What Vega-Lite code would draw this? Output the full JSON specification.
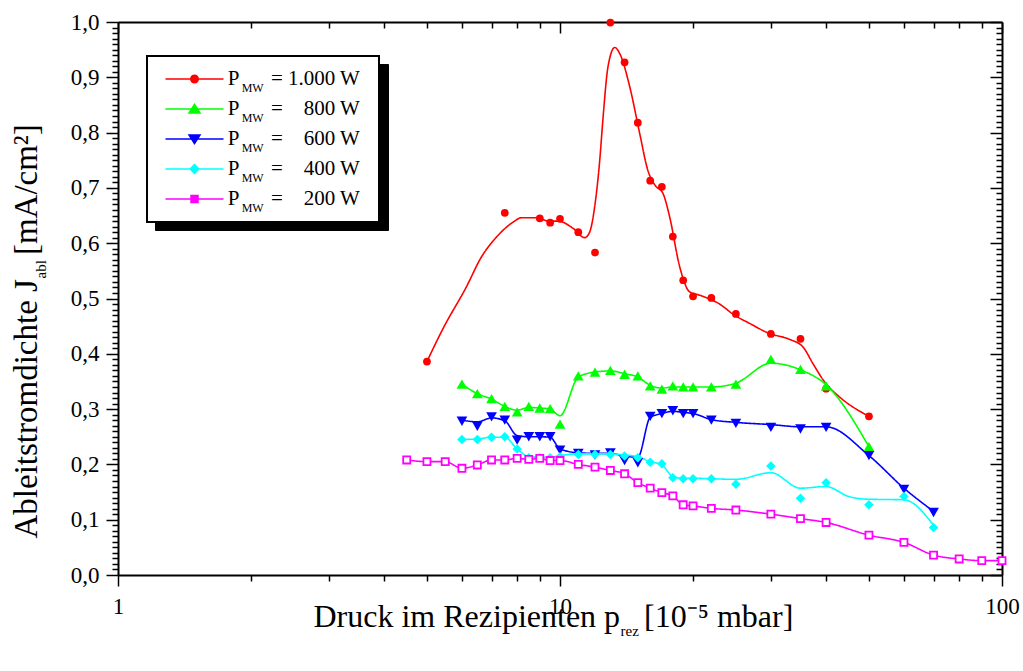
{
  "$schema": "https://vega.github.io/schema/vega-lite/v6.json",
  "width": 884,
  "height": 553,
  "autosize": {"type": "none"},
  "padding": {"left": 118, "top": 22, "right": 21, "bottom": 96},
  "background": "white",
  "datasets": {
    "curve": [
      {"p": 5, "j": 0.386, "s": "1000"}, {"p": 5.44, "j": 0.446, "s": "1000"}, {"p": 6.14, "j": 0.521, "s": "1000"}, {"p": 6.64, "j": 0.575, "s": "1000"},
      {"p": 7.18, "j": 0.611, "s": "1000"}, {"p": 7.83, "j": 0.638, "s": "1000"}, {"p": 8.18, "j": 0.646, "s": "1000"}, {"p": 8.84, "j": 0.646, "s": "1000"},
      {"p": 9.44, "j": 0.64, "s": "1000"}, {"p": 9.9, "j": 0.64, "s": "1000"}, {"p": 10.7, "j": 0.627, "s": "1000"}, {"p": 11.37, "j": 0.61, "s": "1000"},
      {"p": 11.67, "j": 0.62, "s": "1000"}, {"p": 11.98, "j": 0.666, "s": "1000"}, {"p": 12.3, "j": 0.75, "s": "1000"}, {"p": 12.5, "j": 0.822, "s": "1000"},
      {"p": 12.84, "j": 0.919, "s": "1000"}, {"p": 13.3, "j": 0.954, "s": "1000"}, {"p": 13.65, "j": 0.943, "s": "1000"}, {"p": 14.38, "j": 0.883, "s": "1000"},
      {"p": 15.15, "j": 0.798, "s": "1000"}, {"p": 15.8, "j": 0.732, "s": "1000"}, {"p": 16.4, "j": 0.705, "s": "1000"}, {"p": 17.1, "j": 0.69, "s": "1000"},
      {"p": 17.7, "j": 0.648, "s": "1000"}, {"p": 18.66, "j": 0.557, "s": "1000"}, {"p": 19.65, "j": 0.512, "s": "1000"}, {"p": 20.7, "j": 0.506, "s": "1000"},
      {"p": 22.96, "j": 0.49, "s": "1000"}, {"p": 24.8, "j": 0.47, "s": "1000"}, {"p": 26.85, "j": 0.455, "s": "1000"}, {"p": 29.7, "j": 0.437, "s": "1000"},
      {"p": 33.1, "j": 0.426, "s": "1000"}, {"p": 35.5, "j": 0.412, "s": "1000"}, {"p": 37.3, "j": 0.383, "s": "1000"}, {"p": 39.7, "j": 0.349, "s": "1000"},
      {"p": 42.9, "j": 0.322, "s": "1000"}, {"p": 50, "j": 0.287, "s": "1000"},
      {"p": 6, "j": 0.345, "s": "800"}, {"p": 6.5, "j": 0.328, "s": "800"}, {"p": 7, "j": 0.318, "s": "800"}, {"p": 7.5, "j": 0.305, "s": "800"},
      {"p": 8, "j": 0.298, "s": "800"}, {"p": 8.5, "j": 0.303, "s": "800"}, {"p": 9, "j": 0.302, "s": "800"}, {"p": 9.5, "j": 0.3, "s": "800"},
      {"p": 10, "j": 0.288, "s": "800"}, {"p": 11, "j": 0.358, "s": "800"}, {"p": 12, "j": 0.367, "s": "800"}, {"p": 13, "j": 0.369, "s": "800"},
      {"p": 14, "j": 0.364, "s": "800"}, {"p": 15, "j": 0.358, "s": "800"}, {"p": 16, "j": 0.343, "s": "800"}, {"p": 17, "j": 0.338, "s": "800"},
      {"p": 18, "j": 0.34, "s": "800"}, {"p": 19, "j": 0.34, "s": "800"}, {"p": 20, "j": 0.34, "s": "800"}, {"p": 22, "j": 0.34, "s": "800"},
      {"p": 25, "j": 0.347, "s": "800"}, {"p": 30, "j": 0.383, "s": "800"}, {"p": 35, "j": 0.371, "s": "800"}, {"p": 40, "j": 0.344, "s": "800"},
      {"p": 50, "j": 0.232, "s": "800"},
      {"p": 6, "j": 0.28, "s": "600"}, {"p": 6.5, "j": 0.277, "s": "600"}, {"p": 7, "j": 0.284, "s": "600"}, {"p": 7.5, "j": 0.279, "s": "600"},
      {"p": 8, "j": 0.252, "s": "600"}, {"p": 8.5, "j": 0.25, "s": "600"}, {"p": 9, "j": 0.25, "s": "600"}, {"p": 9.5, "j": 0.249, "s": "600"},
      {"p": 10, "j": 0.228, "s": "600"}, {"p": 11, "j": 0.221, "s": "600"}, {"p": 12, "j": 0.22, "s": "600"}, {"p": 13, "j": 0.22, "s": "600"},
      {"p": 14, "j": 0.215, "s": "600"}, {"p": 15, "j": 0.213, "s": "600"}, {"p": 16, "j": 0.285, "s": "600"}, {"p": 17, "j": 0.292, "s": "600"},
      {"p": 18, "j": 0.296, "s": "600"}, {"p": 19, "j": 0.294, "s": "600"}, {"p": 20, "j": 0.292, "s": "600"}, {"p": 22, "j": 0.281, "s": "600"},
      {"p": 25, "j": 0.276, "s": "600"}, {"p": 30, "j": 0.272, "s": "600"}, {"p": 35, "j": 0.268, "s": "600"}, {"p": 40, "j": 0.268, "s": "600"},
      {"p": 50, "j": 0.216, "s": "600"}, {"p": 60, "j": 0.157, "s": "600"}, {"p": 70, "j": 0.115, "s": "600"},
      {"p": 6, "j": 0.245, "s": "400"}, {"p": 6.5, "j": 0.246, "s": "400"}, {"p": 7, "j": 0.249, "s": "400"}, {"p": 7.5, "j": 0.249, "s": "400"},
      {"p": 8, "j": 0.228, "s": "400"}, {"p": 8.5, "j": 0.214, "s": "400"}, {"p": 9, "j": 0.213, "s": "400"}, {"p": 9.5, "j": 0.213, "s": "400"},
      {"p": 10, "j": 0.216, "s": "400"}, {"p": 11, "j": 0.219, "s": "400"}, {"p": 12, "j": 0.219, "s": "400"}, {"p": 13, "j": 0.219, "s": "400"},
      {"p": 14, "j": 0.217, "s": "400"}, {"p": 15, "j": 0.214, "s": "400"}, {"p": 16, "j": 0.205, "s": "400"}, {"p": 17, "j": 0.199, "s": "400"},
      {"p": 18, "j": 0.178, "s": "400"}, {"p": 19, "j": 0.175, "s": "400"}, {"p": 20, "j": 0.175, "s": "400"}, {"p": 22, "j": 0.174, "s": "400"},
      {"p": 25, "j": 0.173, "s": "400"}, {"p": 30, "j": 0.185, "s": "400"}, {"p": 35, "j": 0.157, "s": "400"}, {"p": 40, "j": 0.16, "s": "400"},
      {"p": 45, "j": 0.142, "s": "400"}, {"p": 50, "j": 0.137, "s": "400"}, {"p": 60, "j": 0.136, "s": "400"}, {"p": 70, "j": 0.09, "s": "400"},
      {"p": 4.5, "j": 0.208, "s": "200"}, {"p": 5, "j": 0.205, "s": "200"}, {"p": 5.5, "j": 0.205, "s": "200"}, {"p": 6, "j": 0.193, "s": "200"},
      {"p": 6.5, "j": 0.199, "s": "200"}, {"p": 7, "j": 0.208, "s": "200"}, {"p": 7.5, "j": 0.208, "s": "200"}, {"p": 8, "j": 0.211, "s": "200"},
      {"p": 8.5, "j": 0.209, "s": "200"}, {"p": 9, "j": 0.211, "s": "200"}, {"p": 9.5, "j": 0.207, "s": "200"}, {"p": 10, "j": 0.207, "s": "200"},
      {"p": 11, "j": 0.2, "s": "200"}, {"p": 12, "j": 0.195, "s": "200"}, {"p": 13, "j": 0.189, "s": "200"}, {"p": 14, "j": 0.183, "s": "200"},
      {"p": 15, "j": 0.167, "s": "200"}, {"p": 16, "j": 0.157, "s": "200"}, {"p": 17, "j": 0.149, "s": "200"}, {"p": 18, "j": 0.143, "s": "200"},
      {"p": 19, "j": 0.127, "s": "200"}, {"p": 20, "j": 0.125, "s": "200"}, {"p": 22, "j": 0.1205, "s": "200"}, {"p": 25, "j": 0.1175, "s": "200"},
      {"p": 30, "j": 0.11, "s": "200"}, {"p": 35, "j": 0.102, "s": "200"}, {"p": 40, "j": 0.095, "s": "200"}, {"p": 50, "j": 0.072, "s": "200"},
      {"p": 60, "j": 0.059, "s": "200"}, {"p": 70, "j": 0.036, "s": "200"}, {"p": 80, "j": 0.029, "s": "200"}, {"p": 90, "j": 0.026, "s": "200"},
      {"p": 100, "j": 0.026, "s": "200"}
    ],
    "pts": [
      {"p": 5, "j": 0.386, "s": "1000"}, {"p": 7.5, "j": 0.655, "s": "1000"}, {"p": 9, "j": 0.645, "s": "1000"}, {"p": 9.5, "j": 0.637, "s": "1000"},
      {"p": 10, "j": 0.644, "s": "1000"}, {"p": 11, "j": 0.62, "s": "1000"}, {"p": 12, "j": 0.583, "s": "1000"}, {"p": 13, "j": 0.999, "s": "1000"},
      {"p": 14, "j": 0.927, "s": "1000"}, {"p": 15, "j": 0.818, "s": "1000"}, {"p": 16, "j": 0.713, "s": "1000"}, {"p": 17, "j": 0.702, "s": "1000"},
      {"p": 18, "j": 0.612, "s": "1000"}, {"p": 19, "j": 0.533, "s": "1000"}, {"p": 20, "j": 0.504, "s": "1000"}, {"p": 22, "j": 0.501, "s": "1000"},
      {"p": 25, "j": 0.472, "s": "1000"}, {"p": 30, "j": 0.436, "s": "1000"}, {"p": 35, "j": 0.427, "s": "1000"}, {"p": 40, "j": 0.337, "s": "1000"},
      {"p": 50, "j": 0.287, "s": "1000"},
      {"p": 6, "j": 0.345, "s": "800"}, {"p": 6.5, "j": 0.328, "s": "800"}, {"p": 7, "j": 0.319, "s": "800"}, {"p": 7.5, "j": 0.305, "s": "800"},
      {"p": 8, "j": 0.295, "s": "800"}, {"p": 8.5, "j": 0.305, "s": "800"}, {"p": 9, "j": 0.302, "s": "800"}, {"p": 9.5, "j": 0.301, "s": "800"},
      {"p": 10, "j": 0.273, "s": "800"}, {"p": 11, "j": 0.36, "s": "800"}, {"p": 12, "j": 0.367, "s": "800"}, {"p": 13, "j": 0.37, "s": "800"},
      {"p": 14, "j": 0.363, "s": "800"}, {"p": 15, "j": 0.36, "s": "800"}, {"p": 16, "j": 0.342, "s": "800"}, {"p": 17, "j": 0.336, "s": "800"},
      {"p": 18, "j": 0.342, "s": "800"}, {"p": 19, "j": 0.34, "s": "800"}, {"p": 20, "j": 0.34, "s": "800"}, {"p": 22, "j": 0.34, "s": "800"},
      {"p": 25, "j": 0.345, "s": "800"}, {"p": 30, "j": 0.39, "s": "800"}, {"p": 35, "j": 0.372, "s": "800"}, {"p": 40, "j": 0.342, "s": "800"},
      {"p": 50, "j": 0.232, "s": "800"},
      {"p": 6, "j": 0.278, "s": "600"}, {"p": 6.5, "j": 0.269, "s": "600"}, {"p": 7, "j": 0.286, "s": "600"}, {"p": 7.5, "j": 0.28, "s": "600"},
      {"p": 8, "j": 0.244, "s": "600"}, {"p": 8.5, "j": 0.25, "s": "600"}, {"p": 9, "j": 0.25, "s": "600"}, {"p": 9.5, "j": 0.25, "s": "600"},
      {"p": 10, "j": 0.226, "s": "600"}, {"p": 11, "j": 0.22, "s": "600"}, {"p": 12, "j": 0.217, "s": "600"}, {"p": 13, "j": 0.221, "s": "600"},
      {"p": 14, "j": 0.207, "s": "600"}, {"p": 15, "j": 0.203, "s": "600"}, {"p": 16, "j": 0.287, "s": "600"}, {"p": 17, "j": 0.292, "s": "600"},
      {"p": 18, "j": 0.297, "s": "600"}, {"p": 19, "j": 0.292, "s": "600"}, {"p": 20, "j": 0.292, "s": "600"}, {"p": 22, "j": 0.28, "s": "600"},
      {"p": 25, "j": 0.274, "s": "600"}, {"p": 30, "j": 0.267, "s": "600"}, {"p": 35, "j": 0.264, "s": "600"}, {"p": 40, "j": 0.267, "s": "600"},
      {"p": 50, "j": 0.216, "s": "600"}, {"p": 60, "j": 0.155, "s": "600"}, {"p": 70, "j": 0.113, "s": "600"},
      {"p": 6, "j": 0.245, "s": "400"}, {"p": 6.5, "j": 0.245, "s": "400"}, {"p": 7, "j": 0.249, "s": "400"}, {"p": 7.5, "j": 0.25, "s": "400"},
      {"p": 8, "j": 0.228, "s": "400"}, {"p": 8.5, "j": 0.212, "s": "400"}, {"p": 9, "j": 0.212, "s": "400"}, {"p": 9.5, "j": 0.212, "s": "400"},
      {"p": 10, "j": 0.214, "s": "400"}, {"p": 11, "j": 0.218, "s": "400"}, {"p": 12, "j": 0.218, "s": "400"}, {"p": 13, "j": 0.218, "s": "400"},
      {"p": 14, "j": 0.215, "s": "400"}, {"p": 15, "j": 0.212, "s": "400"}, {"p": 16, "j": 0.204, "s": "400"}, {"p": 17, "j": 0.201, "s": "400"},
      {"p": 18, "j": 0.176, "s": "400"}, {"p": 19, "j": 0.174, "s": "400"}, {"p": 20, "j": 0.174, "s": "400"}, {"p": 22, "j": 0.174, "s": "400"},
      {"p": 25, "j": 0.164, "s": "400"}, {"p": 30, "j": 0.197, "s": "400"}, {"p": 35, "j": 0.139, "s": "400"}, {"p": 40, "j": 0.167, "s": "400"},
      {"p": 50, "j": 0.127, "s": "400"}, {"p": 60, "j": 0.142, "s": "400"}, {"p": 70, "j": 0.086, "s": "400"},
      {"p": 4.5, "j": 0.208, "s": "200"}, {"p": 5, "j": 0.205, "s": "200"}, {"p": 5.5, "j": 0.205, "s": "200"}, {"p": 6, "j": 0.193, "s": "200"},
      {"p": 6.5, "j": 0.199, "s": "200"}, {"p": 7, "j": 0.208, "s": "200"}, {"p": 7.5, "j": 0.208, "s": "200"}, {"p": 8, "j": 0.211, "s": "200"},
      {"p": 8.5, "j": 0.209, "s": "200"}, {"p": 9, "j": 0.211, "s": "200"}, {"p": 9.5, "j": 0.207, "s": "200"}, {"p": 10, "j": 0.207, "s": "200"},
      {"p": 11, "j": 0.2, "s": "200"}, {"p": 12, "j": 0.195, "s": "200"}, {"p": 13, "j": 0.189, "s": "200"}, {"p": 14, "j": 0.183, "s": "200"},
      {"p": 15, "j": 0.167, "s": "200"}, {"p": 16, "j": 0.157, "s": "200"}, {"p": 17, "j": 0.149, "s": "200"}, {"p": 18, "j": 0.143, "s": "200"},
      {"p": 19, "j": 0.127, "s": "200"}, {"p": 20, "j": 0.125, "s": "200"}, {"p": 22, "j": 0.1205, "s": "200"}, {"p": 25, "j": 0.1175, "s": "200"},
      {"p": 30, "j": 0.11, "s": "200"}, {"p": 35, "j": 0.102, "s": "200"}, {"p": 40, "j": 0.095, "s": "200"}, {"p": 50, "j": 0.072, "s": "200"},
      {"p": 60, "j": 0.059, "s": "200"}, {"p": 70, "j": 0.036, "s": "200"}, {"p": 80, "j": 0.029, "s": "200"}, {"p": 90, "j": 0.026, "s": "200"},
      {"p": 100, "j": 0.026, "s": "200"}
    ]
  },
  "config": {
    "font": "Liberation Serif",
    "view": {"stroke": null},
    "axis": {
      "grid": false, "domainColor": "black", "domainWidth": 2, "tickColor": "black", "tickWidth": 1.5,
      "labelColor": "black", "labelFont": "Liberation Serif", "labelFontSize": 23,
      "titleFont": "Liberation Serif", "titleFontWeight": "normal", "titleColor": "black",
      "labelOverlap": false, "labelFlush": false, "labelBound": false
    },
    "legend": {"labelFont": "Liberation Serif", "labelColor": "black"}
  },
  "resolve": {"axis": {"x": "independent", "y": "independent"}},
  "layer": [
    {
      "data": {"name": "curve"},
      "mark": {"type": "line", "interpolate": "monotone"},
      "encoding": {
        "x": {
          "field": "p", "type": "quantitative",
          "scale": {"type": "log", "domain": [1, 100], "nice": false},
          "axis": {
            "orient": "bottom",
            "values": [1, 2, 3, 4, 5, 6, 7, 8, 9, 10, 20, 30, 40, 50, 60, 70, 80, 90, 100],
            "labelExpr": "datum.value == 1 || datum.value == 10 || datum.value == 100 ? format(datum.value, 'd') : ''",
            "labelFont": "Liberation Serif", "labelFontSize": 23, "labelColor": "black",
            "tickSize": {"condition": {"test": "datum.value == 1 || datum.value == 10 || datum.value == 100", "value": 11}, "value": 6},
            "labelPadding": 9,
            "title": "Druck im Rezipienten p",
            "titleFont": "Liberation Serif", "titleFontSize": 32, "titleAlign": "left", "titleBaseline": "alphabetic", "titleAngle": 0,
            "titleX": 195, "titleY": 51
          }
        },
        "y": {
          "field": "j", "type": "quantitative",
          "scale": {"domain": [0, 1], "nice": false},
          "axis": {
            "orient": "left",
            "values": [0, 0.01, 0.02, 0.03, 0.04, 0.05, 0.06, 0.07, 0.08, 0.09, 0.1, 0.11, 0.12, 0.13, 0.14, 0.15, 0.16, 0.17, 0.18, 0.19, 0.2, 0.21, 0.22, 0.23, 0.24, 0.25, 0.26, 0.27, 0.28, 0.29, 0.3, 0.31, 0.32, 0.33, 0.34, 0.35, 0.36, 0.37, 0.38, 0.39, 0.4, 0.41, 0.42, 0.43, 0.44, 0.45, 0.46, 0.47, 0.48, 0.49, 0.5, 0.51, 0.52, 0.53, 0.54, 0.55, 0.56, 0.57, 0.58, 0.59, 0.6, 0.61, 0.62, 0.63, 0.64, 0.65, 0.66, 0.67, 0.68, 0.69, 0.7, 0.71, 0.72, 0.73, 0.74, 0.75, 0.76, 0.77, 0.78, 0.79, 0.8, 0.81, 0.82, 0.83, 0.84, 0.85, 0.86, 0.87, 0.88, 0.89, 0.9, 0.91, 0.92, 0.93, 0.94, 0.95, 0.96, 0.97, 0.98, 0.99, 1],
            "labelExpr": "abs(datum.value * 10 - round(datum.value * 10)) < 0.001 ? replace(format(datum.value, '.1f'), '.', ',') : ''",
            "labelFont": "Liberation Serif", "labelFontSize": 23, "labelColor": "black",
            "tickSize": {"condition": {"test": "abs(datum.value * 10 - round(datum.value * 10)) < 0.001", "value": 12}, "value": 6},
            "labelPadding": 7,
            "title": "Ableitstromdichte J",
            "titleFont": "Liberation Serif", "titleFontSize": 33, "titleAngle": 270, "titleAlign": "left", "titleBaseline": "alphabetic",
            "titleX": -82, "titleY": 516
          }
        },
        "color": {
          "field": "s", "type": "nominal",
          "scale": {"domain": ["1000", "800", "600", "400", "200"], "range": ["#ff0000", "#00ff00", "#0000ff", "#00ffff", "#ff00ff"]},
          "legend": {
            "title": null, "orient": "none", "direction": "vertical", "legendX": 29, "legendY": 34, "zindex": 2,
            "fillColor": "white", "strokeColor": "black", "padding": 8, "clipHeight": 30, "rowPadding": 0,
            "symbolSize": 3364, "symbolOffset": 9.5, "symbolType": "stroke", "symbolStrokeWidth": 1.5,
            "labelOffset": 46.4, "labelFontSize": 21, "labelLimit": 400,
            "labelExpr": "datum.value === '1000' ? '= 1.000 W\u00a0\u00a0\u200b' : '=\u00a0\u00a0\u00a0\u00a0' + datum.value + ' W\u00a0\u00a0\u200b'",
            "encode": {
              "symbols": {
                "update": {
                  "shape": {"signal": "datum.value === '1000' ? 'M-1,0H1M0.13,0A0.13,0.13,0,1,1,-0.13,0A0.13,0.13,0,1,1,0.13,0Z' : datum.value === '800' ? 'M-1,0H1M0,-0.16L0.19,0.14L-0.19,0.14Z' : datum.value === '600' ? 'M-1,0H1M0,0.16L0.19,-0.14L-0.19,-0.14Z' : datum.value === '400' ? 'M-1,0H1M0,-0.15L0.15,0L0,0.15L-0.15,0Z' : 'M-1,0H-0.12M0.12,0H1M-0.12,-0.12H0.12V0.12H-0.12Z'"},
                  "fill": {"signal": "datum.value === '200' ? 'white' : scale('color', datum.value)"},
                  "stroke": {"signal": "scale('color', datum.value)"},
                  "strokeWidth": {"value": 1.5},
                  "opacity": {"value": 1}
                }
              },
              "legend": {"update": {"strokeWidth": {"value": 2}}}
            }
          }
        },
        "opacity": {
          "field": "s", "type": "nominal",
          "scale": {"type": "ordinal", "domain": ["200", "400", "600", "800", "1000"], "range": [1, 1, 1, 1, 1]},
          "legend": {
            "title": null, "orient": "none", "direction": "vertical", "legendX": 37, "legendY": 42, "zindex": 1,
            "fillColor": "black", "strokeColor": "black", "padding": 8, "clipHeight": 30, "rowPadding": 0,
            "symbolSize": 3364, "symbolOffset": 9.5, "symbolOpacity": 0, "labelOffset": 147.5, "labelFontSize": 21, "labelLimit": 400,
            "labelOpacity": 0,
            "labelExpr": "'\u200b'"
          }
        },
        "strokeDash": {
          "field": "s", "type": "nominal",
          "scale": {"type": "ordinal", "domain": ["600", "1000", "800", "400", "200"], "range": [[1, 0], [1, 0], [1, 0], [1, 0], [1, 0]]},
          "legend": {
            "title": null, "orient": "none", "direction": "vertical", "legendX": 29, "legendY": 34, "zindex": 3,
            "fillColor": "transparent", "strokeColor": "transparent", "padding": 8, "clipHeight": 30, "rowPadding": 0,
            "symbolSize": 3364, "symbolOffset": 9.5, "symbolOpacity": 0, "labelOffset": 3.2, "labelFontSize": 21, "labelLimit": 400,
            "labelExpr": "'P'"
          }
        },
        "strokeWidth": {
          "field": "s", "type": "nominal",
          "scale": {"type": "ordinal", "domain": ["800", "1000", "600", "400", "200"], "range": [1.6, 1.6, 1.6, 1.6, 1.6]},
          "legend": {
            "title": null, "orient": "none", "direction": "vertical", "legendX": 29, "legendY": 43, "zindex": 4,
            "fillColor": "transparent", "strokeColor": "transparent", "padding": 8, "clipHeight": 30, "rowPadding": 0,
            "symbolSize": 3364, "symbolOffset": 9.5, "symbolOpacity": 0, "labelOffset": 17.2, "labelFontSize": 12, "labelLimit": 400,
            "labelExpr": "'MW'"
          }
        }
      }
    },
    {
      "data": {"name": "pts"},
      "transform": [{"filter": "datum.s !== '200'"}],
      "mark": {"type": "point", "filled": true, "opacity": 1},
      "encoding": {
        "x": {
          "field": "p", "type": "quantitative",
          "scale": {"type": "log", "domain": [1, 100], "nice": false},
          "axis": {
            "orient": "top", "labels": false,
            "values": [1, 2, 3, 4, 5, 6, 7, 8, 9, 10, 20, 30, 40, 50, 60, 70, 80, 90, 100],
            "tickSize": {"condition": {"test": "datum.value == 1 || datum.value == 10 || datum.value == 100", "value": -11}, "value": -6},
            "title": "[10⁻⁵ mbar]",
            "titleFont": "Liberation Serif", "titleFontSize": 32, "titleAlign": "left", "titleBaseline": "alphabetic", "titleAngle": 0,
            "titleX": 525.6, "titleY": 604
          }
        },
        "y": {
          "field": "j", "type": "quantitative",
          "scale": {"domain": [0, 1], "nice": false},
          "axis": {
            "orient": "right", "labels": false,
            "values": [0, 0.01, 0.02, 0.03, 0.04, 0.05, 0.06, 0.07, 0.08, 0.09, 0.1, 0.11, 0.12, 0.13, 0.14, 0.15, 0.16, 0.17, 0.18, 0.19, 0.2, 0.21, 0.22, 0.23, 0.24, 0.25, 0.26, 0.27, 0.28, 0.29, 0.3, 0.31, 0.32, 0.33, 0.34, 0.35, 0.36, 0.37, 0.38, 0.39, 0.4, 0.41, 0.42, 0.43, 0.44, 0.45, 0.46, 0.47, 0.48, 0.49, 0.5, 0.51, 0.52, 0.53, 0.54, 0.55, 0.56, 0.57, 0.58, 0.59, 0.6, 0.61, 0.62, 0.63, 0.64, 0.65, 0.66, 0.67, 0.68, 0.69, 0.7, 0.71, 0.72, 0.73, 0.74, 0.75, 0.76, 0.77, 0.78, 0.79, 0.8, 0.81, 0.82, 0.83, 0.84, 0.85, 0.86, 0.87, 0.88, 0.89, 0.9, 0.91, 0.92, 0.93, 0.94, 0.95, 0.96, 0.97, 0.98, 0.99, 1],
            "tickSize": {"condition": {"test": "abs(datum.value * 10 - round(datum.value * 10)) < 0.001", "value": -12}, "value": -6},
            "title": "[mA/cm²]",
            "titleFont": "Liberation Serif", "titleFontSize": 33, "titleAngle": 270, "titleAlign": "left", "titleBaseline": "alphabetic",
            "titleX": -966, "titleY": 232.6
          }
        },
        "color": {"field": "s", "type": "nominal"},
        "shape": {
          "field": "s", "type": "nominal", "legend": null,
          "scale": {"domain": ["1000", "800", "600", "400"], "range": ["circle", "triangle-up", "triangle-down", "diamond"]}
        },
        "size": {
          "field": "s", "type": "nominal", "legend": null,
          "scale": {"type": "ordinal", "domain": ["1000", "800", "600", "400"], "range": [60, 115, 115, 90]}
        }
      }
    },
    {
      "data": {"name": "pts"},
      "transform": [{"filter": "datum.s === '200'"}],
      "mark": {"type": "point", "shape": "square", "filled": false, "fill": "white", "fillOpacity": 1, "opacity": 1, "strokeWidth": 1.8, "size": 50},
      "encoding": {
        "x": {
          "field": "p", "type": "quantitative",
          "scale": {"type": "log", "domain": [1, 100], "nice": false},
          "axis": {
            "orient": "bottom", "labels": false, "ticks": false, "domain": false,
            "title": "rez", "titleFont": "Liberation Serif", "titleFontSize": 15, "titleAlign": "left", "titleBaseline": "alphabetic", "titleAngle": 0,
            "titleX": 502, "titleY": 60
          }
        },
        "y": {
          "field": "j", "type": "quantitative",
          "scale": {"domain": [0, 1], "nice": false},
          "axis": {
            "orient": "left", "labels": false, "ticks": false, "domain": false,
            "title": "abl", "titleFont": "Liberation Serif", "titleFontSize": 15, "titleAngle": 270, "titleAlign": "left", "titleBaseline": "alphabetic",
            "titleX": -73, "titleY": 256
          }
        },
        "color": {"field": "s", "type": "nominal"}
      }
    }
  ]
}
